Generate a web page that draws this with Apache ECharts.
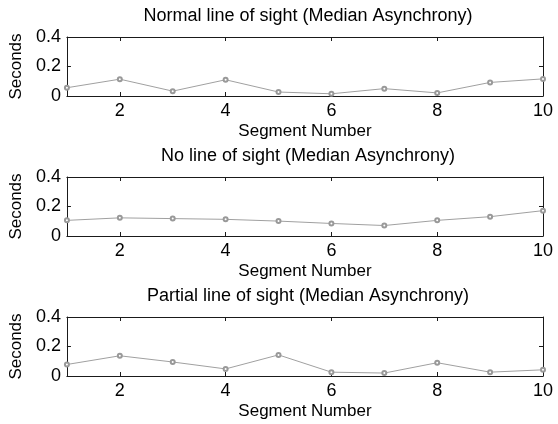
<!DOCTYPE html>
<html>
<head>
<meta charset="utf-8">
<script src="https://cdn.jsdelivr.net/npm/echarts@6/dist/echarts.min.js"></script>
<style>html,body{margin:0;padding:0;background:#fff;}#c{width:558px;height:424px;}</style>
</head>
<body>
<div id="c"></div>
<script>
const segments = ['1','2','3','4','5','6','7','8','9','10'];
const titles = [
  'Normal line of sight (Median Asynchrony)',
  'No line of sight (Median Asynchrony)',
  'Partial line of sight (Median Asynchrony)'
];
const normalLOS  = [0.056, 0.114, 0.033, 0.110, 0.027, 0.015, 0.050, 0.021, 0.092, 0.116];
const noLOS      = [0.106, 0.123, 0.118, 0.113, 0.101, 0.085, 0.071, 0.106, 0.131, 0.172];
const partialLOS = [0.078, 0.137, 0.095, 0.048, 0.143, 0.026, 0.020, 0.090, 0.026, 0.042];
const yTicks = [0, 0.2, 0.4];
const xLabel = 'Segment Number';
const yLabel = 'Seconds';

const seriesData = [normalLOS, noLOS, partialLOS];
const tops = [37, 177, 317];
const gridH = 59;
const FONT = 'Liberation Sans, Arial, sans-serif';
const axisColor = '#1a1a1a';

const option = {
  animation: false,
  backgroundColor: '#fff',
  title: [], grid: [], xAxis: [], yAxis: [], series: []
};
const showEven = (idx, val) => Number(val) % 2 === 0;

seriesData.forEach((d, i) => {
  option.title.push({
    text: titles[i], left: 303, top: tops[i] - 35, textAlign: 'center',
    textStyle: { fontFamily: FONT, fontSize: 18, fontWeight: 'normal', color: '#000' }
  });
  option.grid.push({ left: 63, width: 480, top: tops[i], height: gridH, show: false });
  option.xAxis.push({
    gridIndex: i, type: 'category', data: segments, boundaryGap: false, position: 'bottom',
    axisLine: { show: true, lineStyle: { color: axisColor, width: 1 } },
    axisTick: { show: true, inside: true, length: 4, interval: showEven, lineStyle: { color: axisColor } },
    axisLabel: { interval: showEven, fontFamily: FONT, fontSize: 18, color: '#000', margin: 6 },
    splitLine: { show: false },
    name: xLabel, nameLocation: 'middle', nameGap: 27,
    nameTextStyle: { fontFamily: FONT, fontSize: 17, color: '#000' }
  });
  option.xAxis.push({
    gridIndex: i, type: 'category', data: segments, boundaryGap: false, position: 'top',
    axisLine: { show: true, onZero: false, lineStyle: { color: axisColor, width: 1 } },
    axisTick: { show: true, inside: true, length: 4, interval: showEven, lineStyle: { color: axisColor } },
    axisLabel: { show: false }, splitLine: { show: false }
  });
  option.yAxis.push({
    gridIndex: i, type: 'value', min: 0, max: 0.4, interval: 0.2, position: 'left',
    axisLine: { show: true, onZero: false, lineStyle: { color: axisColor, width: 1 } },
    axisTick: { show: true, inside: true, length: 4, lineStyle: { color: axisColor } },
    axisLabel: { fontFamily: FONT, fontSize: 18, color: '#000', margin: 6,
      formatter: v => String(yTicks.find(t => Math.abs(t - v) < 1e-9) ?? v) },
    splitLine: { show: false },
    name: yLabel, nameLocation: 'middle', nameRotate: 90, nameGap: 37,
    nameTextStyle: { fontFamily: FONT, fontSize: 17, color: '#000' }
  });
  option.yAxis.push({
    gridIndex: i, type: 'value', min: 0, max: 0.4, interval: 0.2, position: 'right',
    axisLine: { show: true, onZero: false, lineStyle: { color: axisColor, width: 1 } },
    axisTick: { show: true, inside: true, length: 4, lineStyle: { color: axisColor } },
    axisLabel: { show: false }, splitLine: { show: false }
  });
  option.series.push({
    type: 'line', xAxisIndex: i * 2, yAxisIndex: i * 2, data: d,
    showSymbol: true, showAllSymbol: true,
    symbol: 'emptyCircle', symbolSize: 4,
    lineStyle: { color: '#a0a0a0', width: 1 },
    itemStyle: { color: '#999999', borderColor: '#999999', borderWidth: 1 },
    z: 5
  });
});

const chart = echarts.init(document.getElementById('c'), null, { renderer: 'canvas' });
chart.setOption(option);
</script>
</body>
</html>
